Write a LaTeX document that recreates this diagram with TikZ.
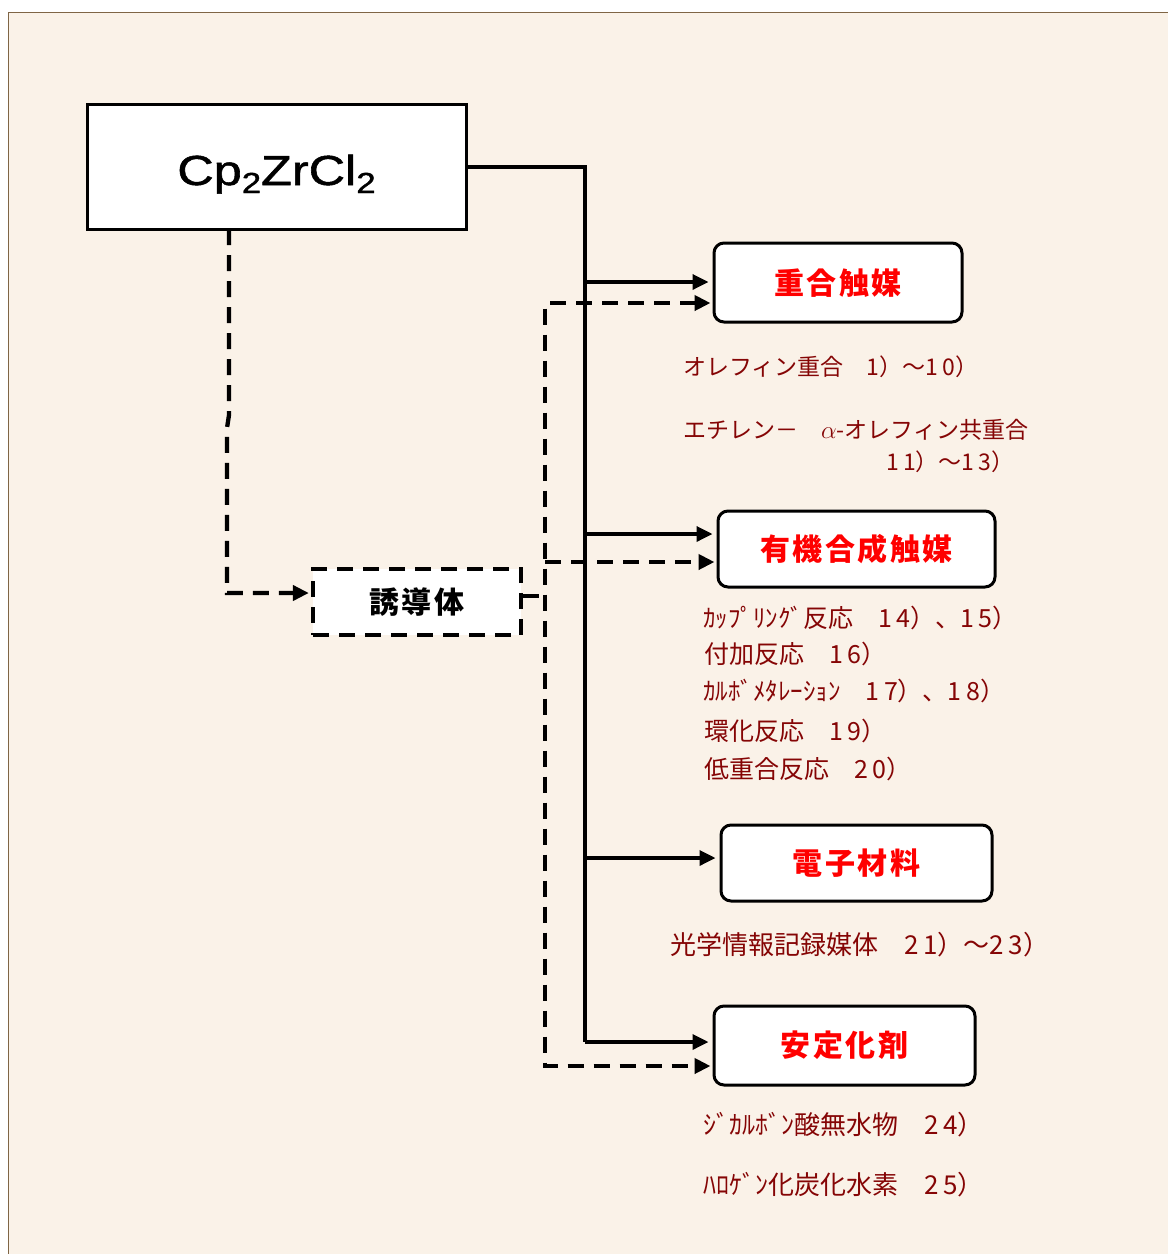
\documentclass[tikz,border=0pt]{standalone}
\usepackage{fontspec}
\usepackage{graphicx}
\usetikzlibrary{arrows.meta}
\newfontfamily\jp{Noto Sans CJK JP}
\newfontfamily\jpl[LetterSpace=8]{Noto Sans CJK JP}
\newfontfamily\jpd[LetterSpace=18]{Noto Sans CJK JP}
\newfontfamily\cpfont[FakeBold=1.2]{Liberation Sans}
\newcommand\refn[1]{{\jpd #1}}
\newcommand\cpsub[1]{\raisebox{-8pt}{\fontsize{29}{29}\selectfont #1}}
\definecolor{bgc}{HTML}{FAF2E8}
\definecolor{framec}{HTML}{7F6545}
\definecolor{drd}{HTML}{850505}
\begin{document}
\begin{tikzpicture}[x=1pt,y=-1pt,
  box/.style={draw=black, line width=3pt, fill=white, inner sep=0pt},
  catbox/.style={box, rounded corners=10pt, text=red,
    font={\jpl\bfseries\fontsize{30}{30}\selectfont}},
  subtxt/.style={anchor=west, inner sep=0pt, text=drd},
  fa/.style={font={\jp\fontsize{23}{23}\selectfont}},
  fb/.style={font={\jp\fontsize{25}{25}\selectfont}},
  fc/.style={font={\jp\fontsize{26}{26}\selectfont}},
  sol/.style={line width=3.4pt, draw=black},
  solarrow/.style={sol, -{Triangle[length=16pt,width=15pt]}, shorten >=4pt},
  dsh/.style={line width=4.3pt, draw=black, dash pattern=on 16pt off 10pt},
  dsharrow/.style={dsh, -{Triangle[length=16pt,width=15pt]}, shorten >=2pt},
]
\useasboundingbox (0,0) rectangle (1168,1254);
\fill[white] (0,0) rectangle (1168,1254);
\draw[framec, line width=1.5pt, fill=bgc] (8.5,12.5) rectangle (1190,1280);

% main nodes
\node[box, minimum width=379pt, minimum height=125pt, text height=36pt, text depth=0pt,
  font={\cpfont\fontsize{42}{42}\selectfont}] (cp) at (276.5,167)
  {\scalebox{1.2}[1]{Cp\cpsub{2}ZrCl\cpsub{2}}};
\node[box, dsh, minimum width=208pt, minimum height=66pt,
  font={\jpl\bfseries\fontsize{30}{30}\selectfont}] (yd) at (417,602) {誘導体};

\node[catbox, minimum width=248pt, minimum height=79pt, text height=24pt, text depth=0pt] (c1) at (838,282.5) {重合触媒};
\node[catbox, minimum width=277pt, minimum height=76pt] (c2) at (856.5,549) {有機合成触媒};
\node[catbox, minimum width=271pt, minimum height=76pt] (c3) at (856.5,863) {電子材料};
\node[catbox, minimum width=261pt, minimum height=79pt] (c4) at (844.5,1045.5) {安定化剤};

% solid bus
\coordinate (sb) at (585,1042);
\coordinate (s1) at (583,282);
\coordinate (s2) at (583,534);
\coordinate (s3) at (583,858);
\draw[sol] (cp.east) -| (sb);
\draw[solarrow] (sb) -- (c4.west |- sb);
\draw[solarrow] (s1) -- (c1.west |- s1);
\draw[solarrow] (s2) -- (c2.west |- s2);
\draw[solarrow] (s3) -- (c3.west |- s3);

% dashed bus
\coordinate (dtop) at (545,303);
\coordinate (dbot) at (545,1066);
\coordinate (dm) at (545,562);
\coordinate (ds) at (545,596);
\draw[dsh, {Triangle[length=16pt,width=15pt]}-{Triangle[length=16pt,width=15pt]}, shorten <=2pt, shorten >=2pt]
  (c1.west |- dtop) -- (dtop) -- (dbot) -- (c4.west |- dbot);
\draw[dsharrow] (dm) -- (c2.west |- dm);
\draw[dsh] (yd.east |- ds) -- (ds);

% dashed from Cp2ZrCl2 to derivative
\coordinate (d0) at (229,229);
\coordinate (d1) at (229,415);
\coordinate (d2) at (227,428);
\coordinate (d3) at (227,593);
\draw[dsharrow] (d0) -- (d1) -- (d2) -- (d3) -- (yd.west |- d3);

% texts
\node[subtxt, fa] (t1) at (683,367) {オレフィン重合　\refn{1}）～\refn{10}）};
\node[subtxt, fa] (t2) at (683,430) {エチレン－　{\fontsize{25}{25}\selectfont$\alpha$}-オレフィン共重合};
\node[subtxt, fa] (t3) at (886,462) {\refn{11}）～\refn{13}）};

\node[subtxt, fb] (t4) at (703,618) {ｶｯﾌﾟﾘﾝｸﾞ反応　\refn{14}）、\refn{15}）};
\node[subtxt, fb] (t5) at (704,654) {付加反応　\refn{16}）};
\node[subtxt, fb] (t6) at (703,691) {ｶﾙﾎﾞﾒﾀﾚｰｼｮﾝ　\refn{17}）、\refn{18}）};
\node[subtxt, fb] (t7) at (704,731) {環化反応　\refn{19}）};
\node[subtxt, fb] (t8) at (704,769) {低重合反応　\refn{20}）};

\node[subtxt, fc] (t9) at (670,945) {光学情報記録媒体　\refn{21}）～\refn{23}）};
\node[subtxt, fc] (t10) at (703,1125) {ｼﾞｶﾙﾎﾞﾝ酸無水物　\refn{24}）};
\node[subtxt, fc] (t11) at (703,1185) {ﾊﾛｹﾞﾝ化炭化水素　\refn{25}）};
\end{tikzpicture}
\end{document}
